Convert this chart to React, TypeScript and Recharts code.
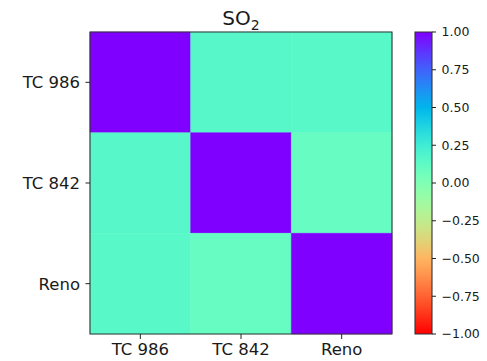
import React from 'react';
import { ComposedChart, XAxis, YAxis, ReferenceArea, Scatter } from 'recharts';

// Station names, in row/column order of the correlation matrix
const stations = ['TC 986', 'TC 842', 'Reno'];

// Pearson correlation of SO2 between stations (one row per station)
const corrTC986 = [1.0, 0.16, 0.15];
const corrTC842 = [0.16, 1.0, 0.1];
const corrReno = [0.15, 0.1, 1.0];

const colorbarTicks = [-1, -0.75, -0.5, -0.25, 0, 0.25, 0.5, 0.75, 1];

const matrix = [corrTC986, corrTC842, corrReno];

const cells = matrix.flatMap((row, r) =>
  row.map((value, c) => ({ col: c, row: r, value }))
);

// Reversed "rainbow" colormap over [-1, 1]: +1 -> violet, -1 -> red
const rainbowR = (v: number): string => {
  const x = (1 - v) / 2;
  const clamp = (t: number) => Math.max(0, Math.min(1, t));
  const r = clamp(Math.abs(2 * x - 0.5));
  const g = clamp(Math.sin(Math.PI * x));
  const b = clamp(Math.cos((Math.PI * x) / 2));
  const h = (t: number) => Math.round(t * 255).toString(16).padStart(2, '0');
  return `#${h(r)}${h(g)}${h(b)}`;
};

const gradientStops = Array.from({ length: 41 }, (_, i) => i / 40);

const FONT = '"DejaVu Sans", sans-serif';
const TEXT = '#1a1a1a';
const W = 487;
const H = 361;

const fmtBar = (v: number) => {
  const s = Math.abs(v).toFixed(2);
  return v < 0 ? `\u2212${s}` : s;
};

export default function App() {
  return (
    <div
      style={{
        position: 'absolute',
        left: 0,
        top: 0,
        width: W,
        height: H,
        background: '#fff',
        fontFamily: FONT,
      }}
    >
      <div
        style={{
          position: 'absolute',
          left: 90,
          width: 302,
          top: 6,
          lineHeight: '24px',
          height: 24,
          textAlign: 'center',
          fontSize: 20,
          color: TEXT,
          fontFamily: FONT,
        }}
      >
        SO
        <span style={{ fontSize: 14, position: 'relative', top: 5 }}>2</span>
      </div>

      {/* Correlation matrix */}
      <div style={{ position: 'absolute', left: 0, top: 0 }}>
        <ComposedChart
          width={W}
          height={H}
          data={cells}
          margin={{ top: 32, right: 95, bottom: 0, left: 0 }}
        >
          <XAxis
            type="number"
            dataKey="col"
            domain={[-0.5, 2.5]}
            allowDataOverflow
            ticks={[0, 1, 2]}
            tickFormatter={(i: number) => stations[i]}
            height={27}
            tickSize={5}
            tickMargin={4}
            axisLine={false}
            tickLine={{ stroke: '#222' }}
            tick={{ fill: TEXT, fontSize: 16.5, fontFamily: FONT }}
            interval={0}
          />
          <YAxis
            type="number"
            dataKey="row"
            domain={[-0.5, 2.5]}
            allowDataOverflow
            reversed
            ticks={[0, 1, 2]}
            tickFormatter={(i: number) => stations[i]}
            width={90}
            tickSize={4.5}
            tickMargin={5.5}
            axisLine={false}
            tickLine={{ stroke: '#222' }}
            tick={{ fill: TEXT, fontSize: 16.5, fontFamily: FONT }}
            interval={0}
          />
          {cells.map((cell) => (
            <ReferenceArea
              key={`${cell.row}-${cell.col}`}
              x1={cell.col - 0.5}
              x2={cell.col + 0.5}
              y1={cell.row - 0.5}
              y2={cell.row + 0.5}
              fill={rainbowR(cell.value)}
              fillOpacity={1}
              stroke={rainbowR(cell.value)}
              strokeWidth={0.5}
              ifOverflow="visible"
            />
          ))}
          <ReferenceArea
            x1={-0.5}
            x2={2.5}
            y1={-0.5}
            y2={2.5}
            fill="none"
            fillOpacity={0}
            stroke="#333"
            strokeWidth={1.1}
            ifOverflow="visible"
          />
          <Scatter
            dataKey="row"
            isAnimationActive={false}
            shape={() => <g />}
          />
        </ComposedChart>
      </div>

      {/* Colour bar */}
      <div style={{ position: 'absolute', left: 0, top: 0 }}>
        <ComposedChart
          width={W}
          height={H}
          data={colorbarTicks.map((v) => ({ x: 0.5, v }))}
          margin={{ top: 32, right: 0, bottom: 27, left: 415 }}
        >
          <defs>
            <linearGradient id="rainbowBar" x1="0" y1="0" x2="0" y2="1">
              {gradientStops.map((t) => (
                <stop key={t} offset={`${t * 100}%`} stopColor={rainbowR(1 - 2 * t)} />
              ))}
            </linearGradient>
          </defs>
          <XAxis type="number" dataKey="x" domain={[0, 1]} hide height={0} />
          <YAxis
            type="number"
            dataKey="v"
            orientation="right"
            domain={[-1, 1]}
            allowDataOverflow
            ticks={colorbarTicks}
            tickFormatter={fmtBar}
            width={55}
            tickSize={4}
            tickMargin={5.5}
            axisLine={false}
            tickLine={{ stroke: '#222' }}
            tick={{ fill: TEXT, fontSize: 12.5, fontFamily: FONT }}
            interval={0}
          />
          <ReferenceArea
            x1={0}
            x2={1}
            y1={-1}
            y2={1}
            fill="url(#rainbowBar)"
            fillOpacity={1}
            stroke="#333"
            strokeWidth={1.1}
            ifOverflow="visible"
          />
          <Scatter dataKey="v" isAnimationActive={false} shape={() => <g />} />
        </ComposedChart>
      </div>
    </div>
  );
}
